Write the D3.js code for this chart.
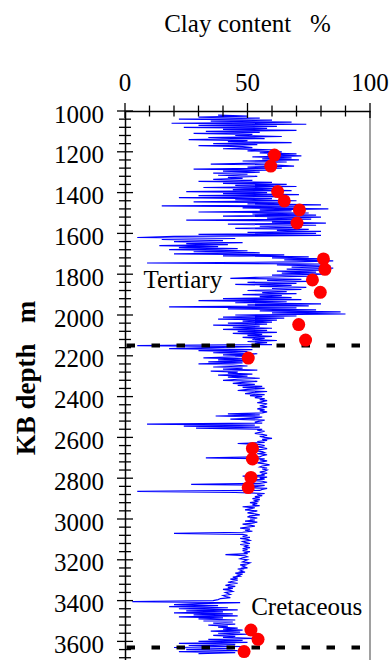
<!DOCTYPE html>
<html>
<head>
<meta charset="utf-8">
<script src="https://cdn.jsdelivr.net/npm/d3@7"></script>
<style>
  html,body{margin:0;padding:0;background:#fff}
  svg{display:block}
</style>
</head>
<body>
<svg id="chart" width="392" height="660"></svg>
<script>
// clay log, regular 5 m sampling; upper part starts at 1020 m
const logStep = 5;
const upperTop = 1020;
const upperClay = [
  38,50,30,55,22,60,35,68,19,74,
  30,62,24,58,40,70,33,55,28,52,
  45,64,34,57,26,50,42,68,36,54,
  30,48,52,40,60,50,64,55,70,58,
  72,52,68,56,71,48,66,57,35,62,
  69,50,64,28,58,40,55,36,50,38,
  54,42,48,36,52,30,60,40,66,45,
  70,32,62,44,68,25,58,40,71,30,
  65,22,60,45,70,28,64,50,80,15,
  72,48,83,55,68,30,75,52,78,40,
  80,58,76,25,72,60,82,42,78,55,
  72,45,75,62,80,50,78,30,80,20,
  5,45,15,40,20,48,25,42,14,38,
  22,46,18,50,28,55,20,65,40,75,
  60,82,65,85,70,9,80,62,84,68,
  85,66,80,62,78,64,82,60,76,55,
  43,72,58,75,50,70,45,68,55,74,
  60,72,50,66,56,70,48,64,55,68,
  40,72,30,66,45,80,50,75,18,70,
  42,78,55,88,60,90,45,70,40,65,
  38,62,48,60,42,58,36,55,44,60,
  40,58,46,62,44,56,50,60,48,57,
  52,62,50,58,53,60,5,55,35,18,
  52,30,50,36,54,40,52
];
// lower part starts at 2205 m
const lowerTop = 2205;
const lowerClay = [
  45,32,50,38,52,34,48,30,44,50,
  36,48,40,54,35,46,42,52,38,50,
  42,55,46,40,54,48,44,53,46,56,
  48,57,50,46,58,52,49,57,51,56,
  53,57,55,58,56,54,58,57,55,58,
  56,54,57,55,58,56,42,55,37,56,
  54,43,57,55,53,56,9,53,24,55,
  29,56,54,57,55,53,56,58,55,57,
  60,56,58,54,57,46,55,57,54,56,
  58,55,53,56,57,54,58,56,55,33,
  57,55,58,56,54,57,59,56,55,58,
  56,58,57,55,58,56,57,48,58,55,
  57,50,56,58,55,27,57,54,49,58,
  56,55,5,45,57,54,56,53,55,52,
  55,53,54,51,54,52,55,48,53,51,
  49,54,52,50,53,55,51,50,54,51,
  53,49,54,52,48,51,53,50,47,51,
  49,52,48,20,48,50,48,51,47,50,
  51,48,49,51,47,50,49,51,48,50,
  48,51,49,50,41,49,50,48,47,50,
  49,48,51,50,47,49,48,50,46,48,
  47,49,45,48,46,47,44,46,43,46,
  44,42,46,43,41,45,42,44,40,43,
  44,41,42,43,40,41,43,39,38,36,
  3,47,30,20,38,18,42,22,46,25,
  40,20,44,28,46,22,40,30,45,32,
  44,36,45,34,42,38,46,40,48,35,
  47,38,50,36,45,40,52,34,48,30,
  50,22,45,26,48,20,44,25,46,22,
  45,30
];
// lab measurements (red dots): [depth m, clay %]
const samples = [
  [1216,61],[1270,59.5],[1395,62.3],[1441,65],[1485,71.2],[1549,70.2],[1725,81],
  [1776,81.6],[1828,76.5],[1889,79.7],[2047,70.9],[2123,73.7],[2211,50.3],
  [2654,52],[2706,52],[2796,51.4],[2846,50.3],[3544,51.4],[3590,54.3],[3650,48.6]
];
const boundaries = [2150, 3630];
const xTicks = [0, 50, 100];
const yTicks = [1000,1200,1400,1600,1800,2000,2200,2400,2600,2800,3000,3200,3400,3600];
const zoneLabels = [
  {text: 'Tertiary', depth: 1870, clay: 7.5},
  {text: 'Cretaceous', depth: 3470, clay: 51.5}
];

const serif = "'Liberation Serif','Times New Roman',serif";
const log = upperClay.map((v, i) => [upperTop + i * logStep, v])
  .concat(lowerClay.map((v, i) => [lowerTop + i * logStep, v]));

const svg = d3.select('#chart');
const x = d3.scaleLinear().domain([0, 100]).range([125, 370]);
const y = d3.scaleLinear().domain([1000, 3700]).range([111, 661.8]);

// right frame
svg.append('line').attr('x1', x(100)).attr('x2', x(100)).attr('y1', y(1000)).attr('y2', 660)
  .attr('stroke', '#a0a0a0').attr('stroke-width', 2);

// log curve
svg.append('path').datum(log)
  .attr('fill', 'none').attr('stroke', '#0000ff').attr('stroke-width', 1.2)
  .attr('d', d3.line().x(d => x(d[1])).y(d => y(d[0])));

// formation boundaries
svg.selectAll('.bnd').data(boundaries).enter().append('line')
  .attr('x1', x(0) + 1.5).attr('x2', x(100)).attr('y1', d => y(d)).attr('y2', d => y(d))
  .attr('stroke', '#000').attr('stroke-width', 4).attr('stroke-dasharray', '8.5,16.5');

// top axis
const topAx = svg.append('g').attr('transform', `translate(0,${y(1000)})`);
topAx.call(d3.axisTop(x).tickValues(d3.range(0, 101, 10)).tickSize(0).tickFormat(''));
topAx.select('.domain').attr('stroke-width', 1.5);
topAx.selectAll('.mt').data(d3.range(0, 101, 10)).enter().append('line')
  .attr('x1', d => x(d)).attr('x2', d => x(d))
  .attr('y1', d => d % 50 ? -5.5 : -8).attr('y2', d => d % 50 ? 5.5 : 7)
  .attr('stroke', '#000').attr('stroke-width', 1.3);
topAx.selectAll('.lbl').data(xTicks).enter().append('text')
  .attr('x', d => x(d)).attr('y', -20.5).attr('text-anchor', 'middle').attr('fill', '#000')
  .style('font-family', serif).style('font-size', '25px').text(d => d);

// left axis
const leftAx = svg.append('g').attr('transform', `translate(${x(0)},0)`);
leftAx.call(d3.axisLeft(y).tickValues([]).tickSizeOuter(0));
leftAx.select('.domain').attr('stroke-width', 1.5);
leftAx.selectAll('.mt').data(d3.range(1000, 3700, 40)).enter().append('line')
  .attr('y1', d => y(d)).attr('y2', d => y(d))
  .attr('x1', d => d % 200 ? -6 : -8).attr('x2', d => d % 200 ? 6 : 8)
  .attr('stroke', '#000').attr('stroke-width', 1.3);
leftAx.selectAll('.lbl').data(yTicks).enter().append('text')
  .attr('x', -21).attr('y', d => y(d) + 11.5).attr('text-anchor', 'end').attr('fill', '#000')
  .style('font-family', serif).style('font-size', '25px').text(d => d);

// titles
svg.append('text').attr('x', 247.5).attr('y', 32).attr('text-anchor', 'middle')
  .attr('xml:space', 'preserve').style('white-space', 'pre')
  .style('font-family', serif).style('font-size', '25px')
  .text('Clay content   %');
svg.append('text').attr('transform', 'translate(35,378) rotate(-90)').attr('text-anchor', 'middle')
  .attr('xml:space', 'preserve').style('white-space', 'pre')
  .style('font-family', serif).style('font-size', '27px').style('font-weight', 'bold')
  .text('KB depth   m');

svg.selectAll('.zone').data(zoneLabels).enter().append('text')
  .attr('x', d => x(d.clay)).attr('y', d => y(d.depth))
  .style('font-family', serif).style('font-size', '25px').text(d => d.text);

// sample dots
svg.selectAll('.dot').data(samples).enter().append('circle')
  .attr('cx', d => x(d[1])).attr('cy', d => y(d[0])).attr('r', 6.5)
  .attr('fill', '#ff0000');
</script>
</body>
</html>
